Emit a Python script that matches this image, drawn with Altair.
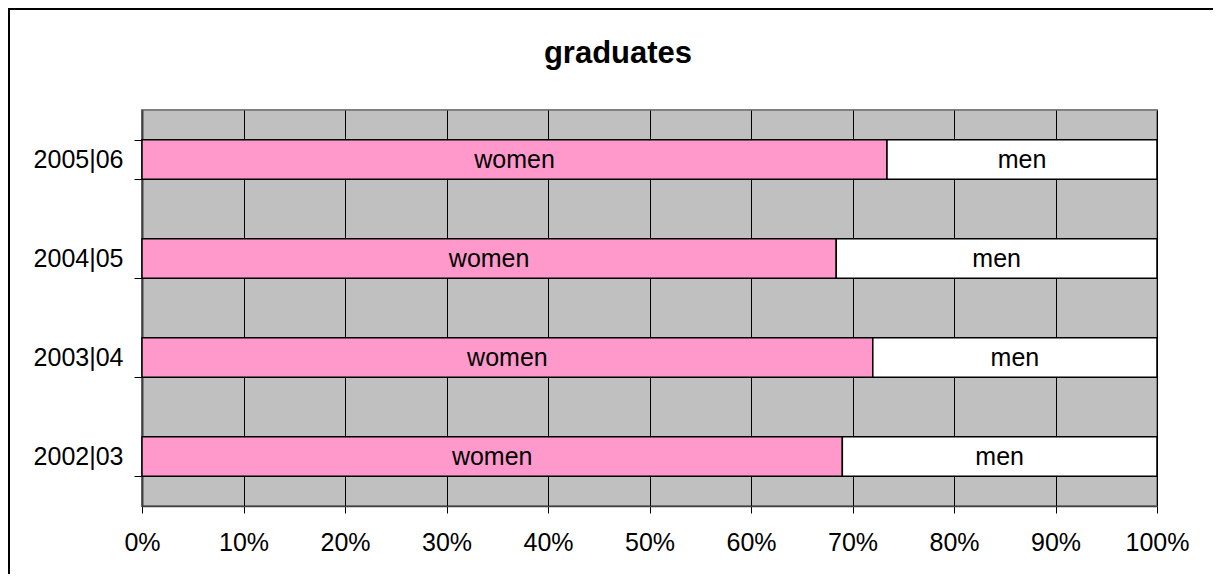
import altair as alt
import pandas as pd

years = ["2005|06", "2004|05", "2003|04", "2002|03"]
women = [0.734, 0.684, 0.720, 0.690]
men = [0.266, 0.316, 0.280, 0.310]
sexes = ["women", "men"]
ticks = [0, 0.1, 0.2, 0.3, 0.4, 0.5, 0.6, 0.7, 0.8, 0.9, 1.0]
title_text = "graduates"

rows = []
for y, w, m in zip(years, women, men):
    rows.append({"year": y, "sex": "women", "share": w, "order": 0})
    rows.append({"year": y, "sex": "men", "share": m, "order": 1})
df = pd.DataFrame(rows)

W, H = 1015, 396
PL, PT, PR, PB = 134, 102, 56, 68
FONT = "Liberation Sans"

base = alt.Chart(df).transform_stack(
    stack="share", as_=["x0", "x1"], groupby=["year"], sort=[{"field": "order"}]
).transform_calculate(mid="(datum.x0 + datum.x1) / 2")

yenc = alt.Y(
    "year:N", sort=years,
    scale=alt.Scale(paddingInner=0.6, paddingOuter=0.3),
    axis=alt.Axis(title=None, tickBand="extent", labelFontSize=25, labelFont=FONT,
                  labelColor="black", tickSize=8, tickColor="black", tickWidth=1,
                  domainColor="#404040", domainWidth=2, labelPadding=11, grid=False),
)

bars = base.mark_bar(stroke="black", strokeWidth=1.5).encode(
    y=yenc,
    x=alt.X("x0:Q", scale=alt.Scale(domain=[0, 1]),
            axis=alt.Axis(title=None, format=".0%", values=ticks, grid=True,
                          gridColor="black", gridWidth=1, labelFontSize=25, labelFont=FONT,
                          labelColor="black", tickSize=7, tickColor="black",
                          labelFlush=False, labelOverlap=False,
                          labelPadding=17, domainColor="#404040", domainWidth=1.5)),
    x2="x1:Q",
    color=alt.Color("sex:N", scale=alt.Scale(domain=sexes, range=["#FF99CC", "#FFFFFF"]),
                    legend=None),
)

labels = base.mark_text(font=FONT, fontSize=25, color="black", baseline="middle").encode(
    y=alt.Y("year:N", sort=years),
    x=alt.X("mid:Q"),
    text="sex:N",
)

one = alt.Data(values=[{"a": 1}])
title = alt.Chart(one).mark_text(font=FONT, fontSize=31, fontWeight="bold", color="black",
                                 baseline="alphabetic", align="center").encode(
    x=alt.value(476), y=alt.value(-47), text=alt.value(title_text))

top_line = alt.Chart(one).mark_rule(color="black", strokeWidth=2).encode(
    x=alt.value(-133), x2=alt.value(W + PR), y=alt.value(-101))
left_line = alt.Chart(one).mark_rule(color="black", strokeWidth=2).encode(
    x=alt.value(-133), y=alt.value(-102), y2=alt.value(H + PB))

chart = alt.layer(bars, labels, title, top_line, left_line).properties(
    width=W, height=H,
    autosize=alt.AutoSizeParams(type="none"),
    padding={"left": PL, "top": PT, "right": PR, "bottom": PB},
    background="white",
).configure_view(fill="#C0C0C0", stroke="#808080", strokeWidth=2)

chart.save("out.html", embed_options={"renderer": "svg", "actions": False})
